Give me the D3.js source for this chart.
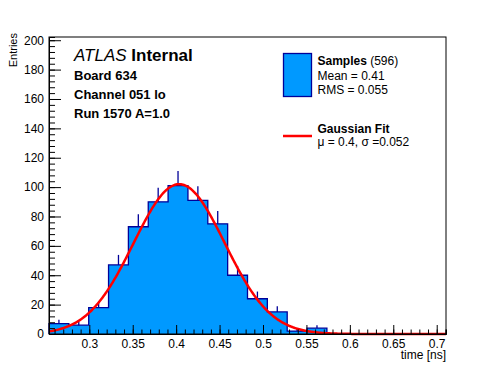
<!DOCTYPE html>
<html>
<head>
<meta charset="utf-8">
<script src="https://cdn.jsdelivr.net/npm/d3@7"></script>
<style>
  body { margin: 0; background: #ffffff; }
  text { font-family: 'Liberation Sans', Arial, Helvetica, sans-serif; fill: #000; }
</style>
</head>
<body>
<div id="graf"></div>
<script>
// Histograma de tiempos con ajuste gaussiano (estilo ROOT)

// Datos
xmin = 0.2536
xmax = 0.7107
cuentas = [7, 6, 18, 47, 73, 90, 101, 91, 75, 40, 24, 15, 2, 4, 0, 0, 0, 0, 0, 0]
ymax = 202.2

gaussMu = 0.4035
gaussSigma = 0.0525
gaussAmp = 102

xticks = [0.3, 0.35, 0.4, 0.45, 0.5, 0.55, 0.6, 0.65, 0.7]
xlabels = ['0.3', '0.35', '0.4', '0.45', '0.5', '0.55', '0.6', '0.65', '0.7']
yticks = [0, 20, 40, 60, 80, 100, 120, 140, 160, 180, 200]

textosIzq = ['Board 634', 'Channel 051 lo', 'Run 1570 A=1.0']
leyendaHist = ['Mean = 0.41', 'RMS = 0.055']
leyendaFit = 'μ = 0.4, σ =0.052'

ancho_total = 496
alto_total = 372
margins = { top: 37, left: 49, right: 50, bottom: 38 }
ancho = ancho_total - margins.left - margins.right
alto = alto_total - margins.top - margins.bottom

azul = '#0099ff'
azulOscuro = '#000099'

svg = d3.select('#graf').append('svg')
  .attr('width', ancho_total)
  .attr('height', alto_total)

g = svg.append('g')
  .attr('transform', `translate(${margins.left}, ${margins.top})`)

// Escaladores
x = d3.scaleLinear().domain([xmin, xmax]).range([0, ancho])
y = d3.scaleLinear().domain([0, ymax]).range([alto, 0])

nbins = cuentas.length
anchoBin = (xmax - xmin) / nbins
bins = cuentas.map((c, i) => ({ x0: xmin + i * anchoBin, x1: xmin + (i + 1) * anchoBin, n: c }))

// contorno escalonado
puntos = []
bins.forEach(d => {
  puntos.push([x(d.x0), y(d.n)])
  puntos.push([x(d.x1), y(d.n)])
})
contorno = [[x(xmin), y(0)], ...puntos, [x(xmax), y(0)]]

// relleno (un solo poligono, sin juntas)
g.append('path')
  .attr('d', d3.line()(contorno) + 'Z')
  .attr('fill', azul)
  .attr('stroke', 'none')

g.append('path')
  .attr('d', d3.line()(contorno))
  .attr('fill', 'none')
  .attr('stroke', azulOscuro)
  .attr('stroke-width', 1.3)

// barras de error (solo la parte superior es visible)
g.selectAll('line.err')
  .data(bins.filter(d => d.n > 0))
  .enter().append('line')
    .attr('class', 'err')
    .attr('x1', d => x((d.x0 + d.x1) / 2))
    .attr('x2', d => x((d.x0 + d.x1) / 2))
    .attr('y1', d => y(d.n))
    .attr('y2', d => y(d.n + Math.sqrt(d.n)))
    .attr('stroke', azulOscuro)
    .attr('stroke-width', 1.3)

// curva gaussiana
gauss = t => gaussAmp * Math.exp(-0.5 * Math.pow((t - gaussMu) / gaussSigma, 2))
xs = d3.range(0, 401).map(i => xmin + i * (xmax - xmin) / 400)
g.append('path')
  .attr('d', d3.line().x(t => x(t)).y(t => y(gauss(t)))(xs))
  .attr('fill', 'none')
  .attr('stroke', '#ff0000')
  .attr('stroke-width', 2.5)

// Ejes
menoresX = d3.range(26, 72).map(i => i / 100).filter(t => t >= xmin && t <= xmax)
g.append('g')
  .attr('transform', `translate(0, ${alto})`)
  .call(d3.axisBottom(x).tickValues(menoresX).tickSize(-4.5).tickFormat(''))
g.append('g')
  .attr('transform', `translate(0, ${alto})`)
  .call(d3.axisBottom(x).tickValues(xticks).tickSize(-9).tickSizeOuter(0)
    .tickFormat((d, i) => xlabels[i]).tickPadding(5))

menoresY = d3.range(0, 203, 4)
g.append('g')
  .call(d3.axisLeft(y).tickValues(menoresY).tickSize(-6).tickFormat(''))
g.append('g')
  .call(d3.axisLeft(y).tickValues(yticks).tickSize(-12).tickSizeOuter(0).tickPadding(5))

g.selectAll('.domain').attr('stroke', '#000')
g.selectAll('.tick line').attr('stroke', '#000')
g.selectAll('.tick text')
  .attr('font-family', "'Liberation Sans', Arial, sans-serif")
  .attr('font-size', '12px')
  .attr('fill', '#000')

// marco
g.append('rect')
  .attr('x', 0).attr('y', 0)
  .attr('width', ancho).attr('height', alto)
  .attr('fill', 'none')
  .attr('stroke', '#000')

// titulos de ejes
svg.append('text')
  .attr('x', margins.left + ancho)
  .attr('y', 359)
  .attr('text-anchor', 'end')
  .attr('font-size', '12px')
  .text('time [ns]')

svg.append('text')
  .attr('transform', `translate(16.5, 33) rotate(-90)`)
  .attr('text-anchor', 'end')
  .attr('font-size', '11px')
  .text('Entries')

// textos ATLAS
atlas = svg.append('text')
  .attr('x', 74)
  .attr('y', 61)
  .attr('font-size', '17px')
atlas.append('tspan').attr('font-style', 'italic').text('ATLAS')
atlas.append('tspan').attr('font-weight', 'bold').text(' Internal')

svg.selectAll('text.info')
  .data(textosIzq)
  .enter().append('text')
    .attr('class', 'info')
    .attr('x', 74)
    .attr('y', (d, i) => 80 + i * 19)
    .attr('font-size', '13px')
    .attr('font-weight', 'bold')
    .text(d => d)

// leyenda
svg.append('rect')
  .attr('x', 283.5).attr('y', 53.5)
  .attr('width', 28).attr('height', 43)
  .attr('fill', azul)
  .attr('stroke', azulOscuro)
  .attr('stroke-width', 1.3)

t1 = svg.append('text').attr('x', 317.5).attr('y', 65).attr('font-size', '12px')
t1.append('tspan').attr('font-weight', 'bold').text('Samples')
t1.append('tspan').text(' (596)')

svg.selectAll('text.lh')
  .data(leyendaHist)
  .enter().append('text')
    .attr('class', 'lh')
    .attr('x', 317.5)
    .attr('y', (d, i) => 80 + i * 14)
    .attr('font-size', '12px')
    .text(d => d)

svg.append('line')
  .attr('x1', 283).attr('x2', 312)
  .attr('y1', 136).attr('y2', 136)
  .attr('stroke', '#ff0000')
  .attr('stroke-width', 2.5)

svg.append('text')
  .attr('x', 317.5).attr('y', 133)
  .attr('font-size', '12px')
  .attr('font-weight', 'bold')
  .text('Gaussian Fit')

svg.append('text')
  .attr('x', 317.5).attr('y', 146)
  .attr('font-size', '12px')
  .text(leyendaFit)
</script>
</body>
</html>
